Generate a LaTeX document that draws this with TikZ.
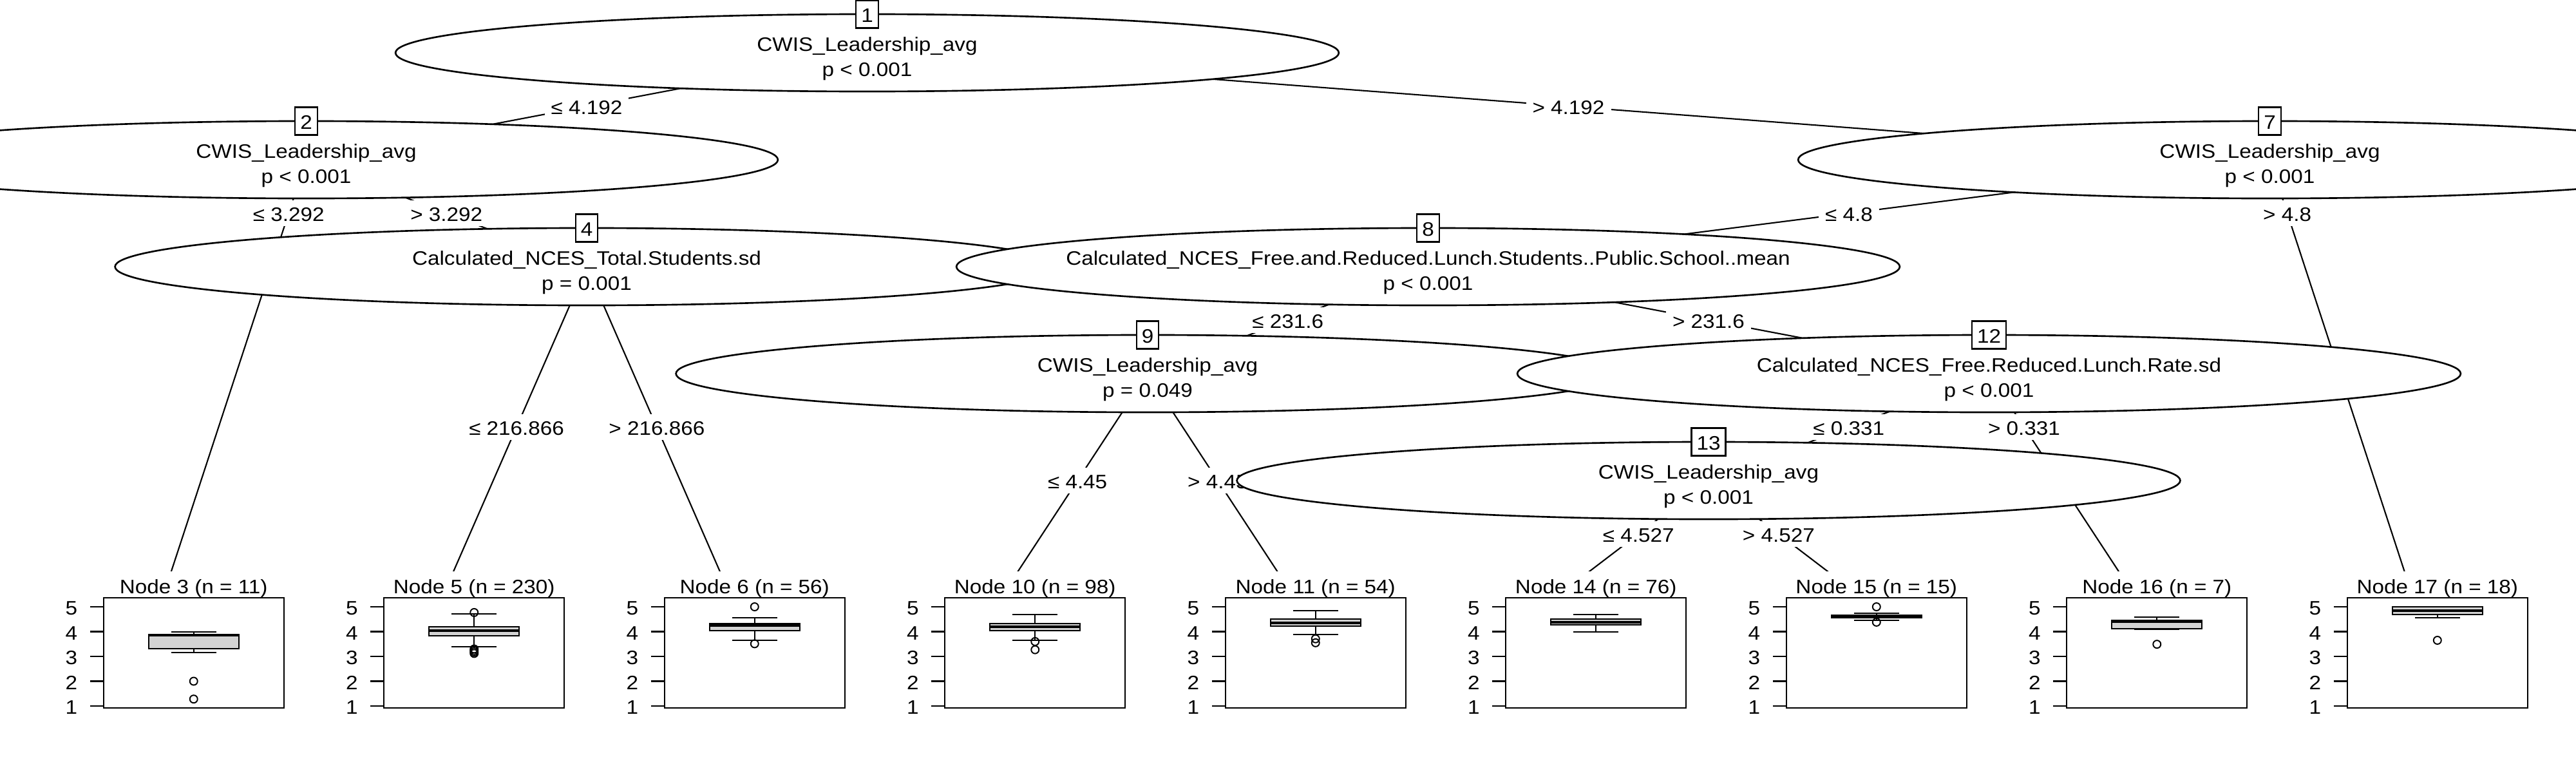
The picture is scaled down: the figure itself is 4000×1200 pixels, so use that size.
\documentclass[tikz,border=0pt]{standalone}
\usepackage{fontspec}
\setmainfont{Liberation Sans}[FakeStretch=1.1]
\usetikzlibrary{shapes.geometric,calc}
\definecolor{boxgray}{HTML}{D3D3D3}
\tikzset{
  every node/.style={font=\fontsize{8.6}{10}\selectfont},
  inell/.style={ellipse, draw, fill=white, line width=0.75pt, minimum width=14.64cm, minimum height=1.2cm, inner sep=0pt, outer sep=0pt},
  idbox/.style={draw, fill=white, line width=0.6pt, inner xsep=0.08cm, inner ysep=0pt, minimum height=0.43cm, text height=0.72em, text depth=0pt},
  ntext/.style={anchor=base, inner sep=0pt},
  edge/.style={line width=0.6pt},
  elbl/.style={fill=white, inner xsep=0.1cm, inner ysep=0.06cm, text height=0.75em, text depth=0.05em},
  ttitle/.style={anchor=base, inner sep=0pt},
  panel/.style={line width=0.65pt},
  axlbl/.style={anchor=east, inner sep=0pt, text height=0.72em, text depth=0pt},
  whisk/.style={line width=0.6pt},
  boxst/.style={fill=boxgray, draw, line width=0.6pt},
  median/.style={line width=1.3pt},
  outl/.style={line width=0.55pt},
}
% terminal panel: #1 column centre, #2 id, #3 title, #4 lower whisker, #5 Q1, #6 median, #7 Q3, #8 upper whisker
\newcommand{\tpanel}[8]{%
  \fill[white] ({#1-217.75},887) rectangle ({#1+217.75},1200);
  \node[ttitle] (t#2) at ({#1+43},921) {#3};
  \draw[panel] ({#1-97},928) rectangle ({#1+183},1099);
  \foreach \v in {1,...,5} {
    \draw[panel] ({#1-118},{1134.5-38.5*\v}) -- ({#1-97},{1134.5-38.5*\v});
    \node[axlbl] (ax#2v\v) at ({#1-137},{1134.5-38.5*\v}) {\v};
  }
  \draw[whisk] ({#1+43},{1134.5-38.5*#7}) -- ({#1+43},{1134.5-38.5*#8});
  \draw[whisk] ({#1+8},{1134.5-38.5*#8}) -- ({#1+78},{1134.5-38.5*#8});
  \draw[whisk] ({#1+43},{1134.5-38.5*#5}) -- ({#1+43},{1134.5-38.5*#4});
  \draw[whisk] ({#1+8},{1134.5-38.5*#4}) -- ({#1+78},{1134.5-38.5*#4});
  \draw[boxst] ({#1-27},{1134.5-38.5*#5}) rectangle ({#1+113},{1134.5-38.5*#7});
  \draw[median] ({#1-27},{1134.5-38.5*#6}) -- ({#1+113},{1134.5-38.5*#6});
}
\newcommand{\outl}[2]{%
  \foreach \o in {#2} {\draw[outl] ({#1+43},{1134.5-38.5*\o}) circle[radius=0.06cm];}
}
\begin{document}
\begin{tikzpicture}[x=0.01cm, y=-0.01cm]
\useasboundingbox (0,0) rectangle (4000,1200);
\clip (0,0) rectangle (4000,1200);
\fill[white] (0,0) rectangle (4000,1200);
% centres of inner nodes
\coordinate (c1) at (1346.5,82);
\coordinate (c2) at (475.5,248);
\coordinate (c4) at (911,414);
\coordinate (c7) at (3524.5,248);
\coordinate (c8) at (2217.5,414);
\coordinate (c9) at (1782,580);
\coordinate (c12) at (3088.5,580);
\coordinate (c13) at (2653,746);
% tops of terminal nodes
\coordinate (e3) at (257.75,912);
\coordinate (e5) at (693.25,912);
\coordinate (e6) at (1128.75,912);
\coordinate (e10) at (1564.25,912);
\coordinate (e11) at (1999.75,912);
\coordinate (e14) at (2435.25,912);
\coordinate (e15) at (2870.75,912);
\coordinate (e16) at (3306.25,912);
\coordinate (e17) at (3741.75,912);

% ---- node 1
\draw[edge] (c1) -- (c2);
\draw[edge] (c1) -- (c7);
\node[inell] (n1) at (c1) {};
\node[idbox] (id1) at (1346.5,22) {1};
\node[ntext] (v1) at (1346.5,79) {CWIS\_Leadership\_avg};
\node[ntext] (p1) at (1346.5,118) {p < 0.001};
\path (c1) -- (c2) node[elbl, pos=0.5] (l2) {≤ 4.192};
\path (c1) -- (c7) node[elbl, pos=0.5] (l7) {> 4.192};

% ---- node 2
\draw[edge] (c2) -- (e3);
\draw[edge] (c2) -- (c4);
\node[inell] (n2) at (c2) {};
\node[idbox] (id2) at (475.5,188) {2};
\node[ntext] (v2) at (475.5,245) {CWIS\_Leadership\_avg};
\node[ntext] (p2) at (475.5,284) {p < 0.001};
\path (c2) -- (e3) node[elbl, pos=0.125] (l3) {≤ 3.292};
\path (c2) -- (c4) node[elbl, pos=0.5] (l4) {> 3.292};

\tpanel{257.75}{3}{Node 3 (n = 11)}{3.16}{3.31}{3.86}{3.89}{3.99}
\outl{257.75}{2.0,1.28}

% ---- node 4
\draw[edge] (c4) -- (e5);
\draw[edge] (c4) -- (e6);
\node[inell] (n4) at (c4) {};
\node[idbox] (id4) at (911,354) {4};
\node[ntext] (v4) at (911,411) {Calculated\_NCES\_Total.Students.sd};
\node[ntext] (p4) at (911,450) {p = 0.001};
\path (c4) -- (e5) node[elbl, pos=0.5] (l5) {≤ 216.866};
\path (c4) -- (e6) node[elbl, pos=0.5] (l6) {> 216.866};

\tpanel{693.25}{5}{Node 5 (n = 230)}{3.38}{3.82}{4.04}{4.20}{4.71}
\outl{693.25}{4.77,3.30,3.24,3.18,3.12}

\tpanel{1128.75}{6}{Node 6 (n = 56)}{3.65}{4.03}{4.26}{4.32}{4.55}
\outl{1128.75}{5.0,3.51}

% ---- node 7
\draw[edge] (c7) -- (c8);
\draw[edge] (c7) -- (e17);
\node[inell] (n7) at (c7) {};
\node[idbox] (id7) at (3524.5,188) {7};
\node[ntext] (v7) at (3524.5,245) {CWIS\_Leadership\_avg};
\node[ntext] (p7) at (3524.5,284) {p < 0.001};
\path (c7) -- (c8) node[elbl, pos=0.5] (l8) {≤ 4.8};
\path (c7) -- (e17) node[elbl, pos=0.125] (l17) {> 4.8};

% ---- node 8
\draw[edge] (c8) -- (c9);
\draw[edge] (c8) -- (c12);
\node[inell] (n8) at (c8) {};
\node[idbox] (id8) at (2217.5,354) {8};
\node[ntext] (v8) at (2217.5,411) {Calculated\_NCES\_Free.and.Reduced.Lunch.Students..Public.School..mean};
\node[ntext] (p8) at (2217.5,450) {p < 0.001};
\path (c8) -- (c9) node[elbl, pos=0.5] (l9) {≤ 231.6};
\path (c8) -- (c12) node[elbl, pos=0.5] (l12) {> 231.6};

% ---- node 9
\draw[edge] (c9) -- (e10);
\draw[edge] (c9) -- (e11);
\node[inell] (n9) at (c9) {};
\node[idbox] (id9) at (1782,520) {9};
\node[ntext] (v9) at (1782,577) {CWIS\_Leadership\_avg};
\node[ntext] (p9) at (1782,616) {p = 0.049};
\path (c9) -- (e10) node[elbl, pos=0.5] (l10) {≤ 4.45};
\path (c9) -- (e11) node[elbl, pos=0.5] (l11) {> 4.45};

\tpanel{1564.25}{10}{Node 10 (n = 98)}{3.66}{4.03}{4.19}{4.32}{4.68}
\outl{1564.25}{3.60,3.27}

\tpanel{1999.75}{11}{Node 11 (n = 54)}{3.88}{4.23}{4.35}{4.50}{4.84}
\outl{1999.75}{3.71,3.55}

% ---- node 12
\draw[edge] (c12) -- (c13);
\draw[edge] (c12) -- (e16);
\node[inell] (n12) at (c12) {};
\node[idbox] (id12) at (3088.5,520) {12};
\node[ntext] (v12) at (3088.5,577) {Calculated\_NCES\_Free.Reduced.Lunch.Rate.sd};
\node[ntext] (p12) at (3088.5,616) {p < 0.001};
\path (c12) -- (c13) node[elbl, pos=0.5] (l13) {≤ 0.331};
\path (c12) -- (e16) node[elbl, pos=0.25] (l16) {> 0.331};

% ---- node 13
\draw[edge] (c13) -- (e14);
\draw[edge] (c13) -- (e15);
\node[inell] (n13) at (c13) {};
\node[idbox] (id13) at (2653,686) {13};
\node[ntext] (v13) at (2653,743) {CWIS\_Leadership\_avg};
\node[ntext] (p13) at (2653,782) {p < 0.001};
\path (c13) -- (e14) node[elbl, pos=0.5] (l14) {≤ 4.527};
\path (c13) -- (e15) node[elbl, pos=0.5] (l15) {> 4.527};

\tpanel{2435.25}{14}{Node 14 (n = 76)}{3.99}{4.27}{4.38}{4.50}{4.69}

\tpanel{2870.75}{15}{Node 15 (n = 15)}{4.46}{4.57}{4.62}{4.67}{4.75}
\outl{2870.75}{5.0,4.38}

\tpanel{3306.25}{16}{Node 16 (n = 7)}{4.08}{4.12}{4.40}{4.45}{4.58}
\outl{3306.25}{3.49}

\tpanel{3741.75}{17}{Node 17 (n = 18)}{4.55}{4.69}{4.84}{5.0}{5.0}
\outl{3741.75}{3.65}
\end{tikzpicture}
\end{document}
